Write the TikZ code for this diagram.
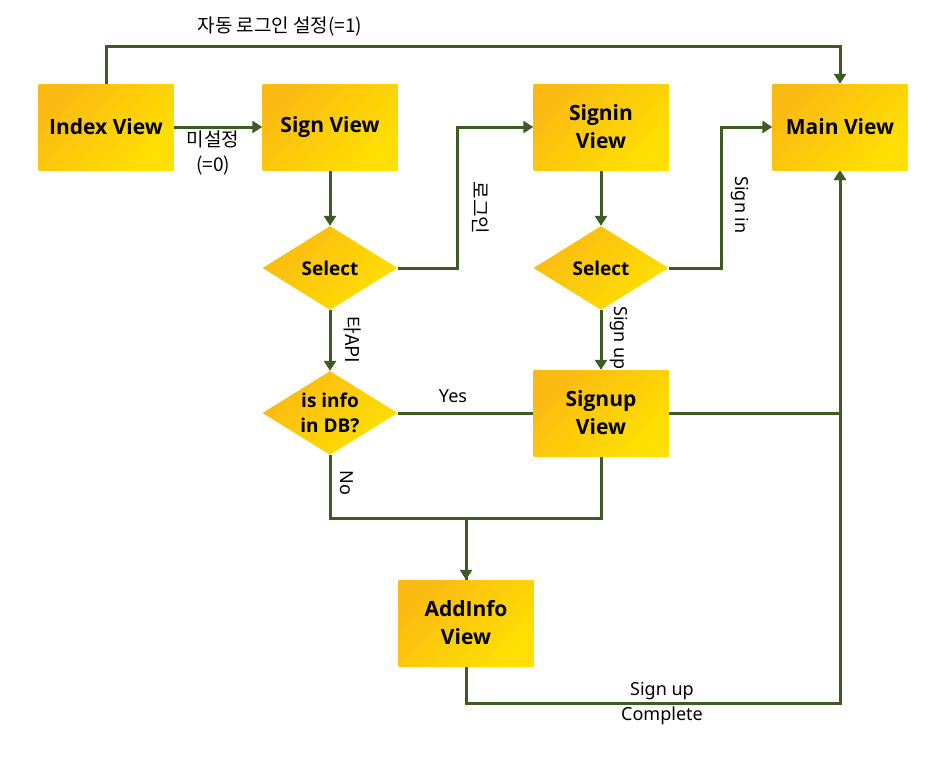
\documentclass[tikz,border=0pt]{standalone}
\usepackage{fontspec}
\setmainfont{Noto Sans}
\newfontfamily\bxf{Open Sans}
\newfontfamily\kr{Noto Sans CJK KR}
\usetikzlibrary{arrows.meta,shapes.geometric,backgrounds}
\definecolor{ln}{HTML}{3E5B23}
\definecolor{ya}{HTML}{FBBA12}
\definecolor{yb}{HTML}{FFE000}
\begin{document}
\begin{tikzpicture}[x=1pt,y=-1pt,
  box/.style={rectangle,minimum width=135pt,minimum height=86pt,inner sep=0pt,
    top color=ya,bottom color=yb,shading angle=45,draw=none,align=center,
    font=\bxf\bfseries\fontsize{21}{28}\selectfont},
  dia/.style={diamond,aspect=1.6,minimum width=135pt,minimum height=84pt,inner sep=0pt,
    top color=ya,bottom color=yb,shading angle=45,draw=none,align=center,
    font=\bxf\bfseries\fontsize{19}{25}\selectfont},
  conn/.style={draw=ln,line width=3pt,-{Triangle[width=12pt,length=10pt]}},
  plain/.style={draw=ln,line width=3pt},
  lbl/.style={font=\fontsize{18}{25}\selectfont,inner sep=1pt,align=center},
  klbl/.style={font=\kr\fontsize{19}{25}\selectfont,inner sep=1pt,align=center}]
\useasboundingbox (0,0) rectangle (943,763);
\node[box] (index) at (106,127) {Index View};
\node[box] (sign) at (330,127) {Sign View};
\node[box] (signin) at (601,127) {Signin\\View};
\node[box] (main) at (840,127) {Main View};
\node[dia] (sel1) at (330,268) {Select};
\node[dia] (sel2) at (601,268) {Select};
\node[dia] (info) at (330,413) {is info\\in DB?};
\node[box] (signup) at (601,413) {Signup\\View};
\node[box] (addinfo) at (466,623) {AddInfo\\View};
\begin{scope}[on background layer]
\draw[conn] (index.north) -- ++(0,-37) -| (main.north);
\draw[conn] (index.east) -- (sign.west);
\draw[conn] (sign.south) -- (sel1.north);
\draw[conn] (sel1.east) -- ++(60,0) |- (signin.west);
\draw[conn] (signin.south) -- (sel2.north);
\draw[conn] (sel2.east) -- ++(53,0) |- (main.west);
\draw[conn] (sel2.south) -- (signup.north);
\draw[conn] (sel1.south) -- (info.north);
\draw[conn] (info.east) -| (main.south);
\draw[conn] (info.south) -- ++(0,63) -| (addinfo.north);
\draw[plain] (signup.south) -- ++(0,62) -| (addinfo.north);
\draw[conn] (addinfo.south) -- ++(0,37) -| (main.south);
\end{scope}
\node[klbl] (l1) at (280,27) {자동 로그인 설정(=1)};
\node[klbl] (l2) at (213,153) {미설정\\(=0)};
\node[klbl,rotate=-90] (l3) at (481,208) {로그인};
\node[klbl,rotate=-90] (l4) at (353,340) {타API};
\node[lbl,rotate=-90] (l5) at (740,205) {Sign in};
\node[lbl,rotate=-90] (l6) at (619,338) {Sign up};
\node[lbl,rotate=-90] (l7) at (347,483) {No};
\node[lbl] (l8) at (453,396) {Yes};
\node[lbl] (l9) at (662,691) {Sign up};
\node[lbl] (l10) at (662,716) {Complete};
\end{tikzpicture}
\end{document}
